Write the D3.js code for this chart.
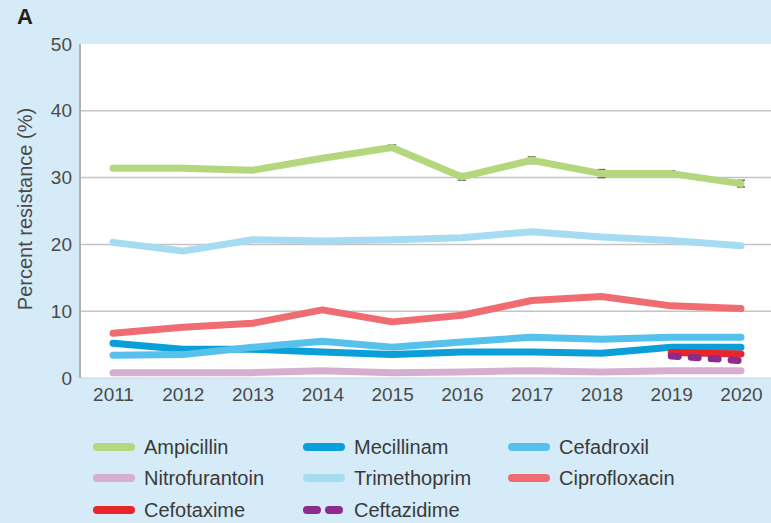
<!DOCTYPE html>
<html>
<head>
<meta charset="utf-8">
<script src="https://cdn.jsdelivr.net/npm/d3@7/dist/d3.min.js"></script>
<style>
  html, body { margin: 0; padding: 0; background: #d5ebf8; }
  svg { display: block; font-family: "Liberation Sans", Arial, sans-serif; }
</style>
</head>
<body>
<div id="chart"></div>
<script>
var years = [2011, 2012, 2013, 2014, 2015, 2016, 2017, 2018, 2019, 2020];

var ampicillin     = [31.4, 31.4, 31.1, 32.9, 34.5, 30.1, 32.6, 30.6, 30.6, 29.1];
var ampicillinErr  = [0, 0, 0, 0, 0.4, 0.5, 0.5, 0.6, 0.4, 0.5];
var mecillinam     = [5.2, 4.3, 4.3, 3.9, 3.5, 3.9, 3.9, 3.7, 4.6, 4.6];
var cefadroxil     = [3.4, 3.5, 4.6, 5.5, 4.6, 5.4, 6.1, 5.8, 6.1, 6.1];
var nitrofurantoin = [0.8, 0.8, 0.8, 1.1, 0.8, 0.9, 1.1, 0.9, 1.1, 1.1];
var trimethoprim   = [20.3, 19.0, 20.7, 20.5, 20.7, 21.0, 21.9, 21.1, 20.6, 19.8];
var ciprofloxacin  = [6.7, 7.6, 8.2, 10.2, 8.4, 9.4, 11.6, 12.2, 10.8, 10.4];
var cefotaxime     = [null, null, null, null, null, null, null, null, 3.8, 3.6];
var ceftazidime    = [null, null, null, null, null, null, null, null, 3.3, 2.6];

var yTicks = [0, 10, 20, 30, 40, 50];

var series = [
  { name: 'Ampicillin', values: ampicillin, color: '#b4d77e' },
  { name: 'Mecillinam', values: mecillinam, color: '#0b9fd9' },
  { name: 'Cefadroxil', values: cefadroxil, color: '#56c1ea' },
  { name: 'Nitrofurantoin', values: nitrofurantoin, color: '#d6afd0' },
  { name: 'Trimethoprim', values: trimethoprim, color: '#a6dcf1' },
  { name: 'Ciprofloxacin', values: ciprofloxacin, color: '#ef6d72' },
  { name: 'Cefotaxime', values: cefotaxime, color: '#e8252b' },
  { name: 'Ceftazidime', values: ceftazidime, color: '#8c2a8d', dashed: true }
];

var width = 771,
  height = 523,
  plotLeft = 80,
  plotTop = 44,
  plotBottom = 378;

var svg = d3.select('#chart').append('svg')
  .attr('width', width)
  .attr('height', height);

svg.append('rect')
  .attr('width', width)
  .attr('height', height)
  .attr('fill', '#d5ebf8');

var x = d3.scaleLinear().domain([2011, 2020]).range([113, 741]);
var y = d3.scaleLinear().domain([0, 50]).range([plotBottom, plotTop]);

// white plot panel
svg.append('rect')
  .attr('x', plotLeft)
  .attr('y', plotTop)
  .attr('width', width - plotLeft)
  .attr('height', plotBottom - plotTop)
  .attr('fill', '#fff');

// gridlines
svg.append('g')
  .selectAll('line')
  .data(yTicks.filter(function (d) { return d > 0 && d < 50; }))
  .enter()
  .append('line')
  .attr('x1', plotLeft)
  .attr('x2', width)
  .attr('y1', function (d) { return y(d); })
  .attr('y2', function (d) { return y(d); })
  .attr('stroke', '#c4c4c4')
  .attr('stroke-width', 1.5);

svg.append('line')
  .attr('x1', plotLeft).attr('x2', width)
  .attr('y1', plotBottom).attr('y2', plotBottom)
  .attr('stroke', '#c8d8e2')
  .attr('stroke-width', 1);

svg.append('line')
  .attr('x1', plotLeft).attr('x2', plotLeft)
  .attr('y1', plotTop).attr('y2', plotBottom)
  .attr('stroke', '#b0b0b0')
  .attr('stroke-width', 2);

// axes
var yAxis = d3.axisLeft(y).tickValues(yTicks).tickSize(0).tickPadding(8);
var gy = svg.append('g')
  .attr('transform', 'translate(' + plotLeft + ',0)')
  .call(yAxis);

var xAxis = d3.axisBottom(x).tickValues(years).tickSize(0).tickPadding(10)
  .tickFormat(d3.format('d'));
var gx = svg.append('g')
  .attr('transform', 'translate(0,' + plotBottom + ')')
  .call(xAxis);

[gx, gy].forEach(function (g) {
  g.select('.domain').remove();
  g.selectAll('text')
    .attr('font-size', 19)
    .attr('font-family', '"Liberation Sans", Arial, sans-serif')
    .attr('fill', '#4a4a4a');
});

svg.append('text')
  .attr('transform', 'translate(32,209) rotate(-90)')
  .attr('text-anchor', 'middle')
  .attr('font-size', 20)
  .attr('fill', '#4a4a4a')
  .text('Percent resistance (%)');

svg.append('text')
  .attr('x', 17)
  .attr('y', 24)
  .attr('font-size', 22)
  .attr('font-weight', 'bold')
  .attr('fill', '#231f20')
  .text('A');

// ampicillin error bars
var errData = years.map(function (yr, i) {
  return { year: yr, v: ampicillin[i], e: ampicillinErr[i] };
}).filter(function (d) { return d.e > 0; });

var errG = svg.append('g').attr('stroke', '#6d6d6d').attr('stroke-width', 1.5);
errG.selectAll('.err-v')
  .data(errData)
  .enter()
  .append('line')
  .attr('x1', function (d) { return x(d.year); })
  .attr('x2', function (d) { return x(d.year); })
  .attr('y1', function (d) { return y(d.v + d.e); })
  .attr('y2', function (d) { return y(d.v - d.e); });
[1, -1].forEach(function (s) {
  errG.selectAll('.cap' + s)
    .data(errData)
    .enter()
    .append('line')
    .attr('x1', function (d) { return x(d.year) - 4; })
    .attr('x2', function (d) { return x(d.year) + 4; })
    .attr('y1', function (d) { return y(d.v + s * d.e); })
    .attr('y2', function (d) { return y(d.v + s * d.e); });
});

// lines
var line = d3.line()
  .defined(function (d) { return d.v != null; })
  .x(function (d) { return x(d.year); })
  .y(function (d) { return y(d.v); });

svg.append('g')
  .selectAll('path')
  .data(series)
  .enter()
  .append('path')
  .attr('d', function (s) {
    return line(years.map(function (yr, i) { return { year: yr, v: s.values[i] }; }));
  })
  .attr('fill', 'none')
  .attr('stroke', function (s) { return s.color; })
  .attr('stroke-width', 7)
  .attr('stroke-linecap', 'round')
  .attr('stroke-linejoin', 'round')
  .attr('stroke-dasharray', function (s) { return s.dashed ? '7,13' : null; });

// legend
var colX = [93, 303, 508];
var rowY = [447, 478, 510];

var legend = svg.append('g')
  .selectAll('g')
  .data(series)
  .enter()
  .append('g')
  .attr('transform', function (d, i) {
    return 'translate(' + colX[i % 3] + ',' + rowY[Math.floor(i / 3)] + ')';
  });

legend.append('line')
  .attr('x1', 4)
  .attr('x2', 38)
  .attr('stroke', function (d) { return d.color; })
  .attr('stroke-width', 8)
  .attr('stroke-linecap', 'round')
  .attr('stroke-dasharray', function (d) { return d.dashed ? '10,12' : null; });

legend.append('text')
  .attr('x', 51)
  .attr('dy', '0.35em')
  .attr('font-size', 20)
  .attr('fill', '#3a3a3a')
  .text(function (d) { return d.name; });
</script>
</body>
</html>
